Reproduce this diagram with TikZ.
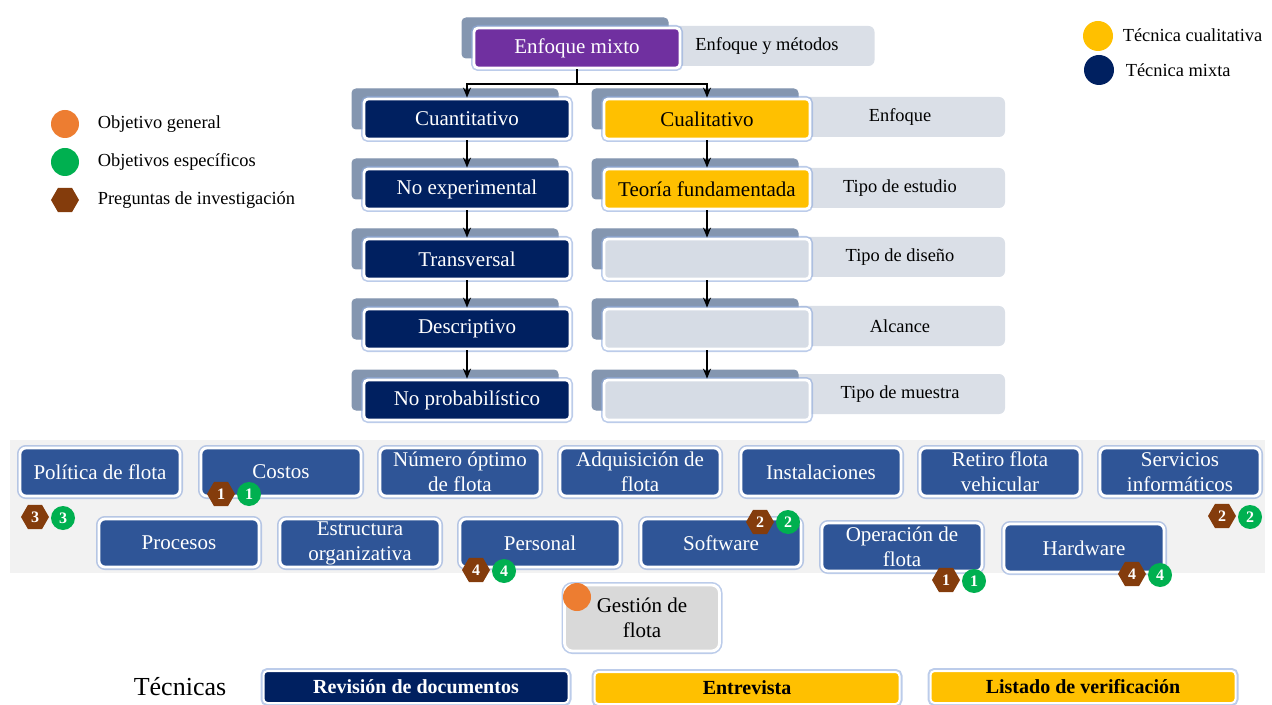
\documentclass[tikz,border=0pt]{standalone}
\usepackage{fontspec}
\setmainfont{Liberation Serif}
\usetikzlibrary{arrows.meta,shapes.geometric,shadows}
\definecolor{mixcol}{HTML}{7030A0}
\definecolor{navy}{HTML}{002060}
\definecolor{amber}{HTML}{FFC000}
\definecolor{pale}{HTML}{D6DCE5}
\definecolor{midblue}{HTML}{2F5597}
\definecolor{panelgray}{HTML}{DADFE7}
\definecolor{cardgray}{HTML}{8496B0}
\definecolor{bandgray}{HTML}{F2F2F2}
\definecolor{objorange}{HTML}{ED7D31}
\definecolor{objgreen}{HTML}{00B050}
\definecolor{qbrown}{HTML}{843C0C}
\definecolor{glowblue}{HTML}{8FAADC}
\definecolor{boxgray}{HTML}{D9D9D9}
\begin{document}
\begin{tikzpicture}[x=0.5pt,y=-0.5pt,
    every node/.style={font=\fontsize{10.5}{12.5}\selectfont},
    glow/.style={preaction={draw=glowblue, line width=3pt, opacity=.6}},
    card/.style={rectangle, rounded corners=2pt,
      copy shadow={shadow xshift=-6pt, shadow yshift=5pt, fill=cardgray, draw=cardgray, line width=.5pt},
      glow, draw=white, line width=1.4pt, minimum width=103pt, minimum height=20pt, inner sep=0pt},
    panel/.style={rectangle, rounded corners=3pt, fill=panelgray, minimum height=20pt,
      font=\fontsize{9.2}{11}\selectfont},
    topic/.style={rectangle, rounded corners=3pt, glow, draw=white, line width=1.4pt,
      fill=midblue, text=white, align=center, minimum width=80pt, minimum height=24pt, inner sep=0pt},
    tbox/.style={rectangle, rounded corners=2pt, glow, draw=white, line width=1pt,
      minimum width=152.5pt, minimum height=16pt, inner sep=0pt, font=\fontsize{10}{12}\selectfont\bfseries},
    hexb/.style={regular polygon, regular polygon sides=6, fill=qbrown, text=white, minimum size=14pt,
      inner sep=0pt, font=\fontsize{8}{9}\selectfont\bfseries},
    circb/.style={circle, fill=objgreen, text=white, minimum size=12pt, inner sep=0pt,
      font=\fontsize{8}{9}\selectfont\bfseries},
    dot/.style={circle, minimum size=14pt, inner sep=0pt},
    legtxt/.style={anchor=west, inner sep=0pt, font=\fontsize{9.2}{11}\selectfont},
    ->, >={Stealth[length=5pt,width=4pt]}, line width=.8pt]
  \useasboundingbox (0,0) rectangle (1272,705);

  % panels on the right
  \node[panel, minimum width=107.5pt] (pmet) at (767,46) {Enfoque y métodos};
  \node[panel, minimum width=105pt] (penf) at (900,117) {Enfoque};
  \node[panel, minimum width=105pt] (pest) at (900,188) {Tipo de estudio};
  \node[panel, minimum width=105pt] (pdis) at (900,257) {Tipo de diseño};
  \node[panel, minimum width=105pt] (palc) at (900,326) {Alcance};
  \node[panel, minimum width=105pt] (pmue) at (900,394) {Tipo de muestra};

  % column boxes
  \node[card, fill=mixcol, text=white] (mixto) at (577,48) {Enfoque mixto};
  \node[card, fill=navy, text=white] (cuanti) at (467,119) {Cuantitativo};
  \node[card, fill=navy, text=white] (noexp) at (467,189) {No experimental};
  \node[card, fill=navy, text=white] (transv) at (467,259) {Transversal};
  \node[card, fill=navy, text=white] (descr) at (467,329) {Descriptivo};
  \node[card, fill=navy, text=white] (noprob) at (467,400) {No probabilístico};
  \node[card, fill=amber] (cuali) at (707,119) {Cualitativo};
  \node[card, fill=amber] (teoria) at (707,189) {Teoría fundamentada};
  \node[card, fill=pale] (rdis) at (707,259) {};
  \node[card, fill=pale] (ralc) at (707,329) {};
  \node[card, fill=pale] (rmue) at (707,400) {};

  \coordinate (split) at (577,84);
  \draw[-] (mixto) -- (split);
  \draw (split) -| (cuanti);
  \draw (split) -| (cuali);
  \foreach \a/\b in {cuanti/noexp, noexp/transv, transv/descr, descr/noprob,
                     cuali/teoria, teoria/rdis, rdis/ralc, ralc/rmue}
    \draw (\a) -- (\b);

  % legends
  \node[dot, fill=objorange] (lgen) at (65,124) {};
  \node[legtxt] (lgentxt) at (97,124) {Objetivo general};
  \node[dot, fill=objgreen] (lesp) at (65,162) {};
  \node[legtxt] (lesptxt) at (97,162) {Objetivos específicos};
  \node[hexb] (lpreg) at (65,200) {};
  \node[legtxt] (lpregtxt) at (97,200) {Preguntas de investigación};
  \node[dot, fill=amber, minimum size=15pt] (lcual) at (1098,36) {};
  \node[legtxt] (lcualtxt) at (1122,35) {Técnica cualitativa};
  \node[dot, fill=navy, minimum size=15pt] (lmix) at (1099,70) {};
  \node[legtxt] (lmixtxt) at (1125,70) {Técnica mixta};

  % topics
  \fill[bandgray] (10,440) rectangle (1265,573);
  \node[topic] (pol) at (100,472) {Política de flota};
  \node[topic] (costos) at (281,472) {Costos};
  \node[topic] (numopt) at (460,472) {Número óptimo\\de flota};
  \node[topic] (adq) at (640,472) {Adquisición de\\flota};
  \node[topic] (inst) at (821,472) {Instalaciones};
  \node[topic] (retiro) at (1000,472) {Retiro flota\\vehicular};
  \node[topic] (serv) at (1180,472) {Servicios\\informáticos};
  \node[topic] (proc) at (179,543) {Procesos};
  \node[topic] (estr) at (360,543) {Estructura\\organizativa};
  \node[topic] (pers) at (540,543) {Personal};
  \node[topic] (soft) at (721,543) {Software};
  \node[topic] (oper) at (902,547) {Operación de\\flota};
  \node[topic] (hard) at (1084,548) {Hardware};

  % badges
  \node[hexb] (qcost) at (221,494) {1};
  \node[circb] (ocost) at (249,494) {1};
  \node[hexb] (qpol) at (35,517) {3};
  \node[circb] (opol) at (63,518) {3};
  \node[hexb] (qpers) at (476,570) {4};
  \node[circb] (opers) at (504,571) {4};
  \node[hexb] (qsoft) at (760,522) {2};
  \node[circb] (osoft) at (788,522) {2};
  \node[hexb] (qserv) at (1222,516) {2};
  \node[circb] (oserv) at (1250,517) {2};
  \node[hexb] (qoper) at (946,580) {1};
  \node[circb] (ooper) at (974,581) {1};
  \node[hexb] (qhard) at (1132,574) {4};
  \node[circb] (ohard) at (1160,575) {4};

  \node[rectangle, rounded corners=4pt, glow, draw=white, line width=1.4pt, fill=boxgray,
    align=center, minimum width=77.5pt, minimum height=33pt, inner sep=0pt] (gestion) at (642,618) {Gestión de\\flota};
  \node[dot, fill=objorange] (ogen) at (577,597) {};

  % techniques
  \node[font=\fontsize{13}{15}\selectfont] (tec) at (180,687) {Técnicas};
  \node[tbox, fill=navy, text=white] (revdoc) at (416,687) {Revisión de documentos};
  \node[tbox, fill=amber] (entrev) at (747,688) {Entrevista};
  \node[tbox, fill=amber] (listado) at (1083,687) {Listado de verificación};
\end{tikzpicture}
\end{document}
